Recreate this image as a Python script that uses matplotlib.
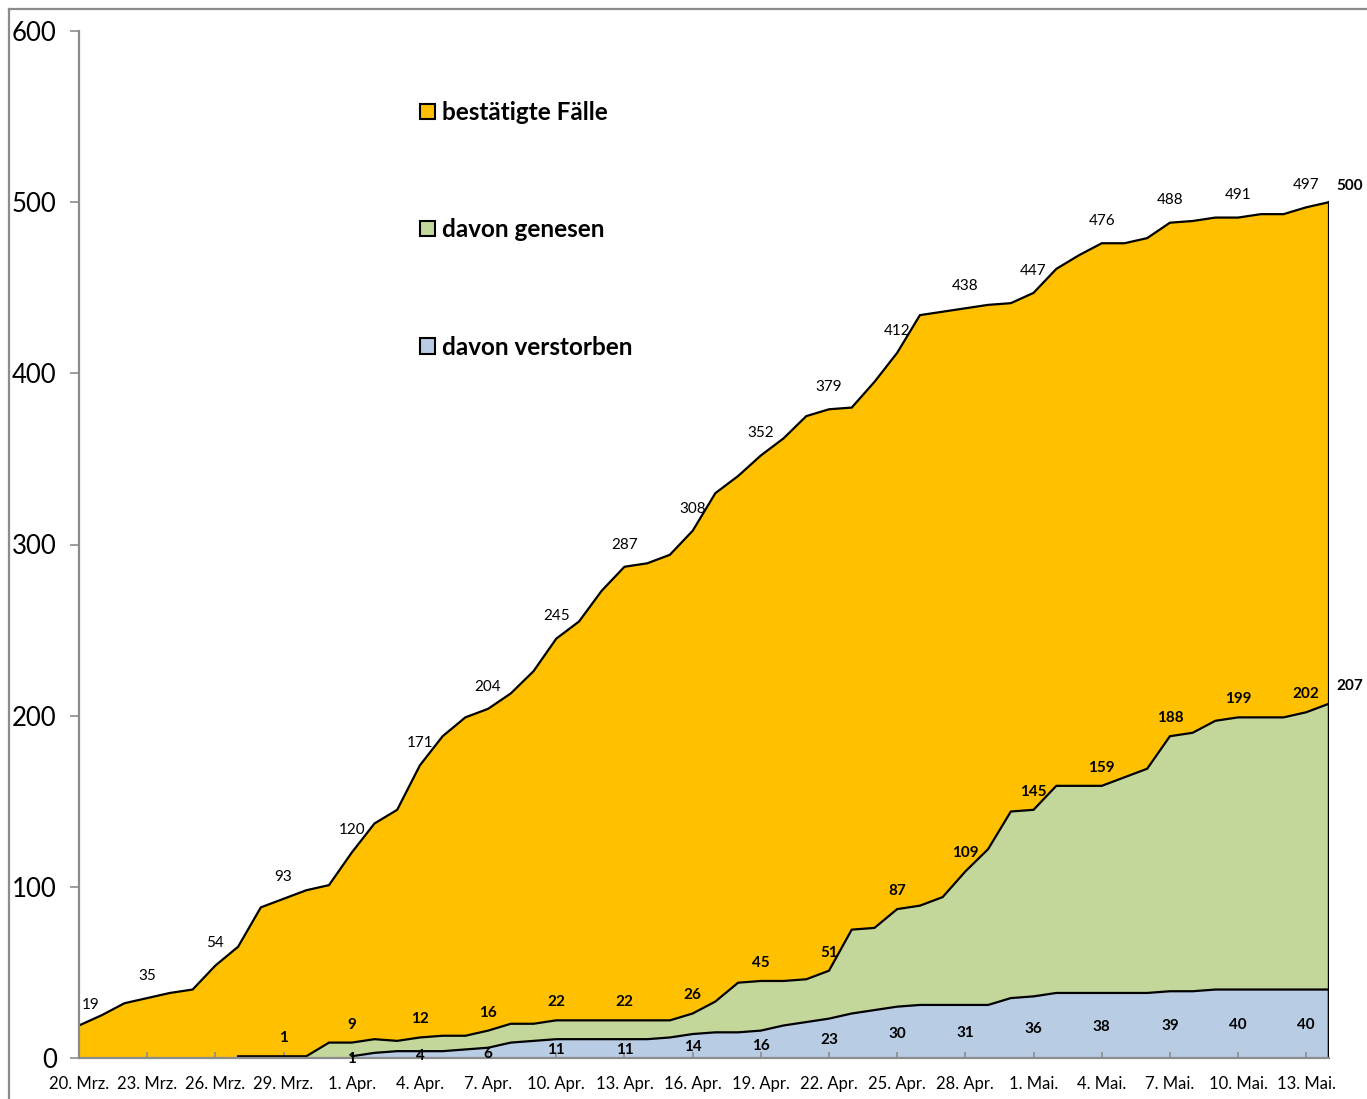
import numpy as np
import pandas as pd
import matplotlib
matplotlib.use("Agg")
import matplotlib.pyplot as plt
from matplotlib.patches import Patch
from matplotlib.lines import Line2D

plt.rcParams['font.family'] = ['Lato', 'DejaVu Sans']

# ---------------- data ----------------
dates = pd.date_range('2020-03-20', '2020-05-14', freq='D')
month_names = {3: 'Mrz.', 4: 'Apr.', 5: 'Mai.'}

total = [19, 25, 32, 35, 38, 40, 54, 65, 88, 93, 98, 101, 120, 137, 145, 171,
         188, 199, 204, 213, 226, 245, 255, 273, 287, 289, 294, 308, 330, 340,
         352, 362, 375, 379, 380, 395, 412, 434, 436, 438, 440, 441, 447, 461,
         469, 476, 476, 479, 488, 489, 491, 491, 493, 493, 497, 500]

recovered = [None] * 7 + [1, 1, 1, 1, 9, 9, 11, 10, 12, 13, 13, 16, 20, 20, 22,
             22, 22, 22, 22, 22, 26, 33, 44, 45, 45, 46, 51, 75, 76, 87, 89, 94,
             109, 122, 144, 145, 159, 159, 159, 164, 169, 188, 190, 197, 199,
             199, 199, 202, 207]

deceased = [None] * 12 + [1, 3, 4, 4, 4, 5, 6, 9, 10, 11, 11, 11, 11, 11, 12,
            14, 15, 15, 16, 19, 21, 23, 26, 28, 30, 31, 31, 31, 31, 35, 36, 38,
            38, 38, 38, 38, 39, 39, 40, 40, 40, 40, 40, 40]

series_names = ['bestätigte Fälle', 'davon genesen', 'davon verstorben']
colors = ['#FFC000', '#C4D79B', '#B8CCE4']

# ---------------- figure ----------------
W, H = 1367, 1099
fig = plt.figure(figsize=(W / 100, H / 100), dpi=100)
ax = fig.add_axes([79 / W, 1 - 1058 / H, (1329 - 79) / W, (1058 - 31) / H])

x = np.arange(len(dates))
tot = np.array(total, dtype=float)
rec = np.array([np.nan if v is None else v for v in recovered], dtype=float)
dec = np.array([np.nan if v is None else v for v in deceased], dtype=float)

for vals, col in zip([tot, rec, dec], colors):
    m = ~np.isnan(vals)
    xs = x[m]
    ys = vals[m]
    ax.fill_between(xs, 0, ys, facecolor=col, edgecolor='none', zorder=1)
    ax.plot(xs, ys, color='black', lw=1.6, zorder=2, solid_joinstyle='miter')
    ax.plot([xs[-1], xs[-1]], [0, ys[-1]], color='black', lw=1.6, zorder=2)

ax.set_xlim(0, len(dates) - 1)
ax.set_ylim(0, 600)

# axes styling
for s in ['top', 'right']:
    ax.spines[s].set_visible(False)
for s in ['left', 'bottom']:
    ax.spines[s].set_color('#8C8C8C')
    ax.spines[s].set_linewidth(1.6)
    ax.spines[s].set_zorder(5)

ax.set_yticks(np.arange(0, 601, 100))
ax.tick_params(axis='y', direction='out', length=6.5, width=1.2, color='#8C8C8C',
               pad=9.5, labelsize=18.5)
xt = x[::3]
ax.set_xticks(xt)
ax.set_xticklabels([f"{dates[i].day}. {month_names[dates[i].month]}" for i in xt])
ax.tick_params(axis='x', direction='in', length=4, width=1.2, color='#8C8C8C',
               pad=13, labelsize=12)

# ---------------- data labels ----------------
label_idx = list(range(0, len(x) - 1, 3))
last = len(x) - 1
for i in label_idx:
    if i == 0:
        ax.annotate(str(total[i]), (x[i], tot[i]), xytext=(2, 15), textcoords='offset points',
                    ha='left', va='center', fontsize=11)
    else:
        ax.annotate(str(total[i]), (x[i], tot[i]), xytext=(0, 16), textcoords='offset points',
                    ha='center', va='center', fontsize=11)
ax.annotate(str(total[last]), (x[last], tot[last]), xytext=(5, 12), textcoords='offset points',
            ha='left', va='center', fontsize=11, fontweight='bold')

for i in label_idx:
    if not np.isnan(rec[i]):
        ax.annotate(str(int(rec[i])), (x[i], rec[i]), xytext=(0, 13), textcoords='offset points',
                    ha='center', va='center', fontsize=11, fontweight='bold')
ax.annotate(str(int(rec[last])), (x[last], rec[last]), xytext=(5, 13), textcoords='offset points',
            ha='left', va='center', fontsize=11, fontweight='bold')

for i in label_idx:
    if not np.isnan(dec[i]):
        ax.annotate(str(int(dec[i])), (x[i], dec[i] / 2), xytext=(0, -1), textcoords='offset points',
                    ha='center', va='center', fontsize=11, fontweight='bold', zorder=6)

# ---------------- legend ----------------
handles = [Patch(facecolor=c, edgecolor='black', linewidth=1.5) for c in colors]
leg = fig.legend(handles, series_names, loc='upper left',
                 bbox_to_anchor=(420 / W, 1 - 101 / H), frameon=False,
                 prop={'weight': 'bold', 'size': 17.5}, labelspacing=3.88,
                 handlelength=0.6, handleheight=0.6, handletextpad=0.3,
                 borderpad=0, borderaxespad=0)

# outer frame (chart area border)
fig.add_artist(Line2D([9 / W, 9 / W], [0, 1 - 9 / H], color='#8C8C8C', lw=1.6,
                      transform=fig.transFigure))
fig.add_artist(Line2D([9 / W, 1], [1 - 9 / H, 1 - 9 / H], color='#8C8C8C', lw=1.6,
                      transform=fig.transFigure))

fig.savefig('out.png', dpi=100)
